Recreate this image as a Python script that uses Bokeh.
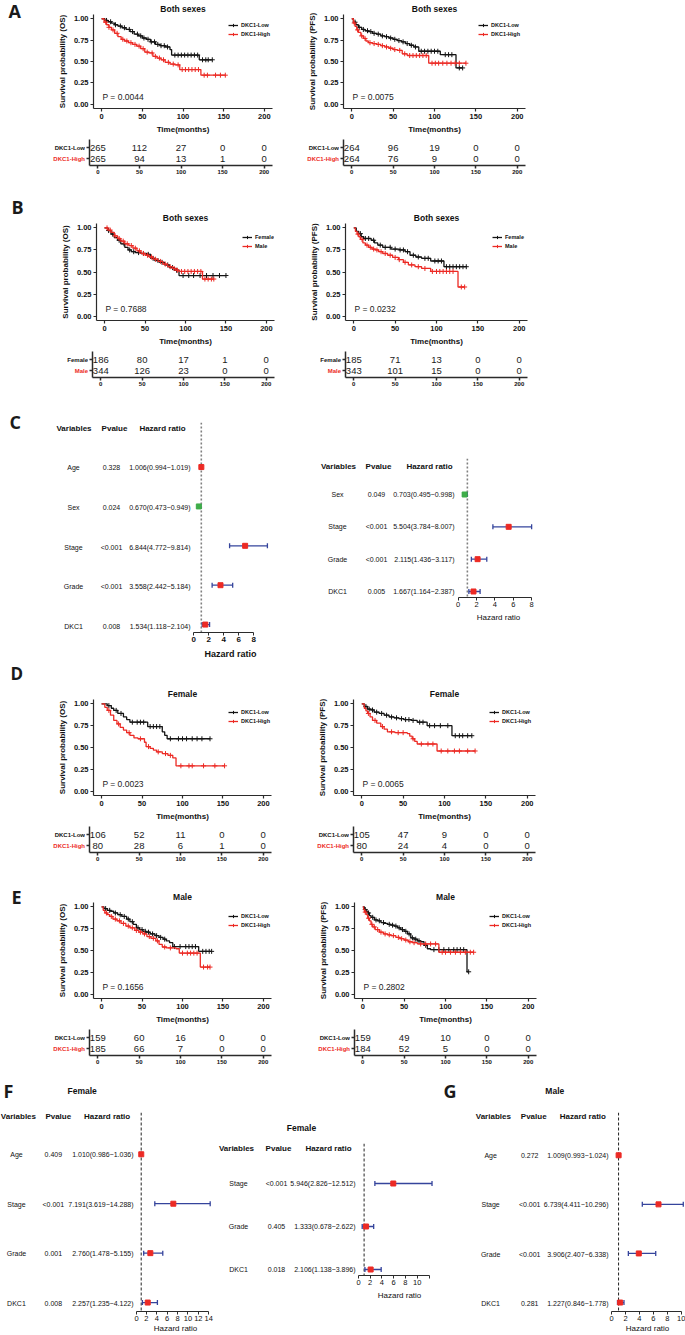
import numpy as np
from bokeh.plotting import figure
from bokeh.models import Range1d, FixedTicker, Label, Legend, LegendItem, Span
from bokeh.layouts import column, row
from bokeh.embed import file_html
from bokeh.resources import INLINE
from bokeh.core.properties import value

# ====================== DATA ======================
KM_X_TICKS = [0, 50, 100, 150, 200]
KM_Y_TICKS = [0.0, 0.25, 0.5, 0.75, 1.0]
KM_Y_LABELS = ["0.00", "0.25", "0.50", "0.75", "1.00"]
RISK_TIMES = [0, 50, 100, 150, 200]
DKC1_GROUPS = ["DKC1-Low", "DKC1-High"]
SEX_GROUPS = ["Female", "Male"]

# --- A: both sexes, OS ---
A_OS_low_t = [0, 4, 8, 12, 16, 20, 25, 30, 35, 40, 45, 50, 55, 60, 66, 72, 78, 84, 86, 120]
A_OS_low_s = [1, .98, .965, .95, .93, .915, .895, .875, .85, .82, .80, .775, .76, .73, .70, .685, .67, .64, .575, .52]
A_OS_low_c = [6, 11, 17, 23, 28, 34, 38, 44, 48, 52, 57, 61, 65, 69, 73, 77, 81, 90, 94, 98, 102, 106, 110, 114, 118, 124, 128, 131, 136]
A_OS_high_t = [0, 3, 6, 9, 12, 16, 20, 24, 28, 33, 38, 43, 48, 53, 58, 63, 68, 73, 78, 84, 90, 96, 122]
A_OS_high_s = [1, .96, .93, .90, .87, .83, .79, .76, .74, .72, .70, .68, .65, .61, .60, .56, .54, .52, .49, .47, .46, .406, .34]
A_OS_high_c = [5, 9, 14, 19, 26, 31, 36, 41, 46, 51, 56, 62, 66, 71, 76, 82, 88, 94, 99, 103, 107, 111, 115, 119, 126, 130, 140, 146, 152]
A_OS_risk_low = [265, 112, 27, 0, 0]
A_OS_risk_high = [265, 94, 13, 1, 0]
A_OS_P = 0.0044
# --- A: both sexes, PFS ---
A_PFS_low_t = [0, 2, 5, 8, 12, 16, 20, 25, 30, 35, 40, 45, 50, 55, 60, 65, 70, 75, 81, 107, 126]
A_PFS_low_s = [1, .96, .93, .90, .875, .86, .85, .83, .82, .80, .79, .775, .76, .745, .73, .71, .69, .67, .62, .58, .425]
A_PFS_low_c = [4, 9, 14, 19, 23, 27, 32, 37, 42, 47, 52, 57, 62, 67, 72, 77, 84, 88, 92, 96, 100, 104, 113, 117, 121, 130, 134]
A_PFS_high_t = [0, 2, 4, 6, 8, 11, 14, 17, 20, 25, 30, 35, 40, 45, 50, 55, 61, 67, 93]
A_PFS_high_s = [1, .95, .91, .87, .84, .80, .77, .74, .72, .71, .70, .685, .67, .655, .64, .63, .59, .57, .48]
A_PFS_high_c = [3, 7, 12, 16, 22, 27, 32, 37, 42, 47, 52, 58, 64, 70, 74, 78, 82, 86, 90, 97, 101, 105, 110, 115, 120, 125, 130, 138]
A_PFS_risk_low = [264, 96, 19, 0, 0]
A_PFS_risk_high = [264, 76, 9, 0, 0]
A_PFS_P = 0.0075

# --- B: female vs male, OS ---
B_OS_f_t = [0, 4, 8, 12, 16, 20, 25, 29, 33, 38, 45, 52, 57, 62, 68, 74, 80, 86, 92]
B_OS_f_s = [1, .97, .93, .89, .86, .82, .78, .75, .73, .72, .71, .70, .655, .63, .61, .58, .55, .52, .46]
B_OS_f_c = [5, 10, 18, 24, 31, 36, 42, 48, 54, 60, 66, 71, 78, 84, 89, 97, 104, 110, 118, 126, 134, 142, 150]
B_OS_m_t = [0, 4, 8, 12, 16, 20, 25, 30, 35, 40, 45, 50, 55, 60, 66, 72, 78, 84, 88, 92, 121]
B_OS_m_s = [1, .975, .95, .91, .88, .85, .82, .80, .77, .74, .71, .69, .67, .645, .62, .59, .56, .54, .52, .506, .42]
B_OS_m_c = [3, 7, 13, 18, 23, 28, 33, 38, 43, 48, 53, 58, 63, 69, 75, 81, 86, 90, 95, 99, 103, 107, 111, 115, 119, 124, 128, 132, 135]
B_OS_risk_f = [186, 80, 17, 1, 0]
B_OS_risk_m = [344, 126, 23, 0, 0]
B_OS_P = 0.7688
# --- B: female vs male, PFS ---
B_PFS_f_t = [0, 3, 6, 9, 12, 21, 25, 29, 35, 45, 55, 62, 68, 75, 82, 93, 109]
B_PFS_f_s = [1, .96, .935, .90, .88, .86, .83, .805, .78, .76, .75, .73, .69, .67, .655, .625, .56]
B_PFS_f_c = [8, 14, 18, 24, 32, 38, 44, 50, 56, 60, 65, 72, 78, 86, 90, 98, 102, 106, 112, 116, 120, 124, 128, 132, 136]
B_PFS_m_t = [0, 2, 4, 6, 8, 11, 14, 18, 22, 26, 30, 35, 41, 47, 54, 60, 66, 74, 82, 93, 126]
B_PFS_m_s = [1, .96, .93, .90, .87, .83, .805, .78, .76, .75, .73, .71, .69, .665, .64, .61, .58, .56, .54, .506, .33]
B_PFS_m_c = [5, 10, 16, 20, 24, 28, 33, 38, 44, 50, 55, 62, 70, 78, 86, 95, 100, 104, 108, 112, 116, 120, 130, 134]
B_PFS_risk_f = [185, 71, 13, 0, 0]
B_PFS_risk_m = [343, 101, 15, 0, 0]
B_PFS_P = 0.0232

# --- D: female, OS ---
D_OS_low_t = [0, 7, 12, 15, 20, 27, 31, 35, 57, 75, 78, 81]
D_OS_low_s = [1, .98, .95, .925, .89, .85, .82, .79, .74, .68, .64, .60]
D_OS_low_c = [9, 18, 24, 38, 44, 48, 52, 60, 64, 68, 72, 85, 95, 100, 105, 112, 118, 124, 134]
D_OS_high_t = [0, 4, 7, 11, 15, 19, 23, 27, 31, 35, 40, 45, 53, 55, 60, 64, 68, 75, 82, 88, 92]
D_OS_high_s = [1, .96, .925, .87, .81, .77, .73, .70, .67, .64, .61, .60, .56, .51, .49, .47, .45, .43, .41, .38, .29]
D_OS_high_c = [9, 21, 34, 48, 58, 70, 79, 85, 98, 108, 112, 126, 140, 152]
D_OS_risk_low = [106, 52, 11, 0, 0]
D_OS_risk_high = [80, 28, 6, 1, 0]
D_OS_P = 0.0023
# --- D: female, PFS ---
D_PFS_low_t = [0, 3, 7, 11, 15, 21, 27, 33, 39, 45, 51, 60, 67, 79, 109]
D_PFS_low_s = [1, .97, .94, .93, .905, .89, .87, .85, .84, .83, .82, .81, .79, .75, .635]
D_PFS_low_c = [5, 9, 13, 18, 24, 30, 36, 42, 48, 53, 57, 62, 70, 74, 82, 88, 95, 104, 113, 118, 122, 128, 133]
D_PFS_high_t = [0, 3, 5, 7, 10, 13, 18, 23, 27, 31, 40, 55, 58, 61, 64, 67, 91]
D_PFS_high_s = [1, .95, .92, .89, .85, .81, .78, .74, .71, .68, .67, .66, .63, .60, .57, .54, .46]
D_PFS_high_c = [8, 16, 25, 36, 44, 50, 62, 72, 80, 86, 96, 104, 112, 118, 128, 137]
D_PFS_risk_low = [105, 47, 9, 0, 0]
D_PFS_risk_high = [80, 24, 4, 0, 0]
D_PFS_P = 0.0065

# --- E: male, OS ---
E_OS_low_t = [0, 3, 7, 11, 15, 20, 25, 31, 35, 39, 43, 47, 51, 55, 60, 66, 71, 76, 80, 84, 88, 120]
E_OS_low_s = [1, .98, .96, .95, .93, .91, .89, .86, .83, .80, .76, .74, .72, .71, .69, .67, .65, .63, .61, .59, .545, .49]
E_OS_low_c = [5, 10, 17, 23, 28, 33, 38, 45, 50, 54, 58, 63, 68, 73, 78, 90, 97, 104, 108, 112, 116, 125, 129, 133, 136]
E_OS_high_t = [0, 2, 4, 7, 10, 14, 19, 24, 30, 35, 41, 46, 51, 56, 61, 67, 71, 75, 80, 92, 96, 122]
E_OS_high_s = [1, .96, .93, .91, .89, .86, .84, .81, .78, .76, .73, .71, .69, .66, .64, .61, .57, .54, .53, .52, .47, .31]
E_OS_high_c = [6, 12, 17, 22, 27, 33, 38, 43, 48, 53, 59, 64, 69, 78, 85, 100, 106, 110, 114, 118, 126, 131, 134]
E_OS_risk_low = [159, 60, 16, 0, 0]
E_OS_risk_high = [185, 66, 7, 0, 0]
E_OS_P = 0.1656
# --- E: male, PFS ---
E_PFS_low_t = [0, 2, 4, 6, 8, 10, 14, 18, 22, 26, 30, 34, 38, 42, 46, 50, 54, 58, 62, 66, 70, 74, 78, 82, 126]
E_PFS_low_s = [1, .97, .95, .93, .90, .88, .85, .84, .82, .81, .80, .79, .78, .76, .74, .72, .69, .645, .63, .61, .60, .56, .52, .51, .256]
E_PFS_low_c = [3, 7, 12, 16, 20, 25, 32, 36, 40, 44, 48, 52, 56, 60, 64, 68, 76, 86, 92, 98, 104, 110, 114, 118, 122, 128]
E_PFS_high_t = [0, 1, 2, 4, 6, 8, 10, 12, 15, 20, 25, 30, 34, 40, 45, 50, 55, 60, 66, 92]
E_PFS_high_s = [1, .97, .94, .91, .87, .84, .80, .77, .74, .71, .69, .68, .67, .65, .635, .62, .60, .59, .575, .48]
E_PFS_high_c = [3, 7, 11, 14, 18, 22, 27, 32, 37, 43, 47, 52, 57, 62, 70, 76, 82, 88, 96, 100, 106, 112, 118, 124, 130, 134]
E_PFS_risk_low = [159, 49, 10, 0, 0]
E_PFS_risk_high = [184, 52, 5, 0, 0]
E_PFS_P = 0.2802

# --- Forest plots ---
C_OS_vars = ["Age", "Sex", "Stage", "Grade", "DKC1"]
C_OS_p = ["0.328", "0.024", "<0.001", "<0.001", "0.008"]
C_OS_hr = [1.006, 0.670, 6.844, 3.558, 1.534]
C_OS_lo = [0.994, 0.473, 4.772, 2.442, 1.118]
C_OS_hi = [1.019, 0.949, 9.814, 5.184, 2.104]

C_PFS_vars = ["Sex", "Stage", "Grade", "DKC1"]
C_PFS_p = ["0.049", "<0.001", "<0.001", "0.005"]
C_PFS_hr = [0.703, 5.504, 2.115, 1.667]
C_PFS_lo = [0.495, 3.784, 1.436, 1.164]
C_PFS_hi = [0.998, 8.007, 3.117, 2.387]

F_OS_vars = ["Age", "Stage", "Grade", "DKC1"]
F_OS_p = ["0.409", "<0.001", "0.001", "0.008"]
F_OS_hr = [1.010, 7.191, 2.760, 2.257]
F_OS_lo = [0.986, 3.619, 1.478, 1.235]
F_OS_hi = [1.036, 14.288, 5.155, 4.122]

F_PFS_vars = ["Stage", "Grade", "DKC1"]
F_PFS_p = ["<0.001", "0.405", "0.018"]
F_PFS_hr = [5.946, 1.333, 2.106]
F_PFS_lo = [2.826, 0.678, 1.138]
F_PFS_hi = [12.512, 2.622, 3.896]

G_OS_vars = ["Age", "Stage", "Grade", "DKC1"]
G_OS_p = ["0.272", "<0.001", "<0.001", "0.281"]
G_OS_hr = [1.009, 6.739, 3.906, 1.227]
G_OS_lo = [0.993, 4.411, 2.407, 0.846]
G_OS_hi = [1.024, 10.296, 6.338, 1.778]

C_OS_TICKS = [0, 2, 4, 6, 8]
C_PFS_TICKS = [0, 2, 4, 6, 8]
F_OS_TICKS = [0, 2, 4, 6, 8, 10, 12, 14]
F_PFS_TICKS = [0, 2, 4, 6, 8, 10, 12]
F_PFS_TICKS_UNLABELLED = [12]
G_OS_TICKS = [0, 2, 4, 6, 8, 10]

# ====================== STYLE / LAYOUT ======================
FONT = "Liberation Sans"
LETTER_FONT = "Open Sans"
RED = "#EC2A24"
BLACK = "#141414"
BLUE = "#35449C"
GREEN = "#3FAE49"
AXC = "#2B2B2B"
TXT = "#111111"


class Geo:
    """Figure whose canvas box and frame are given in page-pixel units."""
    def __init__(self, box, frame, xr, yr, **kw):
        L, T, R, B = box
        l, t, r, b = frame
        XL, XR, YT, YB = round(L), round(R), round(T), round(B)
        fl, fr, ft, fb = round(l), round(r), round(t), round(b)
        self.fig = figure(width=XR - XL, height=YB - YT,
                          x_range=Range1d(*xr), y_range=Range1d(*yr),
                          min_border_left=fl - XL, min_border_right=XR - fr,
                          min_border_top=ft - YT, min_border_bottom=YB - fb,
                          frame_align=False,
                          output_backend="svg", toolbar_location=None, **kw)
        f = self.fig
        f.outline_line_color = None
        f.xgrid.visible = False
        f.ygrid.visible = False


def text_fig(box, items):
    """A figure without axes whose frame is the whole box (page-pixel coordinates)."""
    L, T, R, B = box
    g = Geo(box, box, (L, R), (B, T), x_axis_location=None, y_axis_location=None)
    p = g.fig
    for (x, y, txt, align, size, bold, color, font) in items:
        p.text(x=[x], y=[y], text=[txt], text_align=align, text_baseline="middle",
               text_font=value(font), text_font_size=value(f"{size}px"),
               text_font_style="bold" if bold else "normal", text_color=color)
    return p


def style_axis(ax, size, bold, width=1.0, tick_out=3, standoff=2):
    ax.axis_line_color = AXC
    ax.axis_line_width = width
    ax.major_tick_line_color = AXC
    ax.major_tick_line_width = width
    ax.major_tick_in = 0
    ax.major_tick_out = tick_out
    ax.minor_tick_line_color = None
    ax.major_label_text_font = FONT
    ax.major_label_text_font_size = f"{size}px"
    ax.major_label_text_font_style = "bold" if bold else "normal"
    ax.major_label_text_color = TXT
    ax.major_label_standoff = standoff
    ax.axis_label_text_font = FONT
    ax.axis_label_text_font_style = "bold"
    ax.axis_label_text_color = TXT


def km_panel(sp):
    x0, y1, y0 = sp["x0"], sp["y1"], sp["y0"]
    bx0, bx1 = sp["boxx"]
    bt, bb = sp["band"]
    k = 0.83
    ppu = y0 - y1
    fl, fr = x0 - 10 * k, x0 + 210 * k
    ft, fb = y1 - 0.05 * ppu, y0 + 0.05 * ppu
    mb = y1 + 120.3
    mx0 = fl - 35 if sp.get("letter") else bx0
    g = Geo((mx0, bt, bx1, mb), (fl, ft, fr, fb), (-10, 210), (-0.05, 1.05))
    p = g.fig
    style_axis(p.xaxis[0], 7.5, True, width=1.2)
    style_axis(p.yaxis[0], 7.5, True, width=1.2)
    p.xaxis.ticker = FixedTicker(ticks=KM_X_TICKS)
    p.yaxis.ticker = FixedTicker(ticks=KM_Y_TICKS)
    p.yaxis.major_label_overrides = dict(zip(KM_Y_TICKS, KM_Y_LABELS))
    p.xaxis.axis_label = "Time(months)"
    p.yaxis.axis_label = sp["ylab"]
    p.xaxis.axis_label_text_font_size = "8px"
    p.yaxis.axis_label_text_font_size = "8px"
    p.xaxis.axis_label_standoff = 3
    p.yaxis.axis_label_standoff = 4
    p.title.text = sp["title"]
    p.title.align = "center"
    p.title.text_font = FONT
    p.title.text_font_size = "8.5px"
    p.title.text_font_style = "bold"
    p.title.text_color = TXT
    p.title.standoff = 2

    items = []
    for (t, s, c), name, col in zip(sp["curves"], sp["groups"], (BLACK, RED)):
        end = max(c)
        xs = list(t) + [end]
        ys = list(s) + [s[-1]]
        r1 = p.step(xs, ys, mode="after", line_color=col, line_width=1.3)
        idx = np.searchsorted(np.array(t, dtype=float), np.array(c, dtype=float), side="right") - 1
        cy = np.array(s, dtype=float)[idx]
        r2 = p.scatter(c, cy, marker="cross", size=5, line_color=col, line_width=1)
        items.append(LegendItem(label=name, renderers=[r1, r2]))
    leg = Legend(items=items, location=(sp["legx"], fb - ft - 27.5),
                 label_text_font=FONT, label_text_font_size="5.5px", label_text_font_style="bold",
                 label_text_color=TXT, label_height=8, glyph_height=8, glyph_width=10,
                 label_standoff=3, spacing=1, padding=0, margin=0,
                 border_line_color=None, background_fill_alpha=0)
    p.add_layout(leg)
    p.add_layout(Label(x=1, y=0.085, text=f"P = {sp['p']:.4f}", text_align="left", text_baseline="middle",
                       text_font=FONT, text_font_size="8.5px", text_color="#222222"))

    if sp.get("letter"):
        L_, lx, ly, lsz = sp["letter"]
        gm = text_fig((bx0, bt, mx0, mb), [(lx, ly, L_, "left", lsz, True, "#1a1a1a", LETTER_FONT)])
        main_row = row(gm, p)
    else:
        main_row = p

    # risk table
    tt, tb = y1 + 123.3, y1 + 149.3
    r1y, r2y = y1 + 131.3, y1 + 142.3
    rs = r2y - r1y
    tyr = (2 + (tb - r2y) / rs, 1 - (r1y - tt) / rs)
    tx0 = fl - 4
    tg = Geo((tx0, mb, bx1, bb), (fl, tt, fr, tb), (-10, 210), tyr)
    tp = tg.fig
    style_axis(tp.xaxis[0], 6, True, width=1.5, standoff=1)
    style_axis(tp.yaxis[0], 6, True, width=1.5, standoff=0)
    tp.xaxis.ticker = FixedTicker(ticks=KM_X_TICKS)
    tp.yaxis.ticker = FixedTicker(ticks=[1, 2])
    tp.yaxis.major_label_overrides = {1: "", 2: ""}
    gl = []
    for i, (vals, name, col, ry) in enumerate(zip(sp["risk"], sp["groups"], (BLACK, RED), (r1y, r2y))):
        tp.text(x=RISK_TIMES, y=[i + 1] * len(RISK_TIMES), text=[str(v) for v in vals],
                text_font=value(FONT), text_font_size=value("9.5px"), text_align="center",
                text_baseline="middle", text_color="#1a1a1a")
        gl.append((tx0 - 0.5, ry, name, "right", 6, True, col, FONT))
    gt = text_fig((bx0, mb, tx0, bb), gl)
    return column(main_row, row(gt, tp))


def forest(sp):
    L, T, R, B = sp["box"]
    fl, fr = sp["fx"]
    ft, fb = sp["span_top"], sp["axis_y"]
    hr0, ppu, row1, rsp = sp["hr0"], sp["ppu"], sp["row1"], sp["sp"]
    xr = ((fl - hr0) / ppu, (fr - hr0) / ppu)
    yr = ((fb - row1) / rsp + 1, (ft - row1) / rsp + 1)
    g = Geo((fl, T, R, B), (fl, ft, fr, fb), xr, yr, y_axis_location=None)
    p = g.fig
    ticks = sp["ticks"]
    style_axis(p.xaxis[0], sp["tick_size"], sp["tick_bold"], width=1.0, tick_out=3, standoff=1)
    p.xaxis.ticker = FixedTicker(ticks=ticks)
    p.xaxis.bounds = (ticks[0], ticks[-1])
    if sp.get("blank"):
        p.xaxis.major_label_overrides = {v: "" for v in sp["blank"]}
    so, size, bold = sp["xlab"]
    p.xaxis.axis_label = "Hazard ratio"
    p.xaxis.axis_label_standoff = so
    p.xaxis.axis_label_text_font_size = f"{size}px"
    p.xaxis.axis_label_text_font_style = "bold" if bold else "normal"
    # reference line at HR = 1
    p.add_layout(Span(location=1, dimension="height", line_color=sp["span_color"],
                      line_dash=sp["span_dash"], line_width=sp["span_w"], level="underlay"))
    names, pv, hr, lo, hi = sp["data"]
    rows = list(range(1, len(names) + 1))
    p.segment(x0=lo, y0=rows, x1=hi, y1=rows, line_color=BLUE, line_width=1.3)
    p.scatter(x=lo + hi, y=rows + rows, marker="dash", angle=np.pi / 2, size=5,
              line_color=BLUE, line_width=1.3)
    colors = [GREEN if h < 1 else RED for h in hr]
    p.scatter(x=hr, y=rows, marker="square", size=5, fill_color=colors, line_color=colors)

    # text columns to the left of the plot
    c = sp["cols"]
    items = []
    for i in range(len(names)):
        ry = row1 + (rows[i] - 1) * rsp
        items.append((c["name"], ry, names[i], "center", 7, False, TXT, FONT))
        items.append((c["pval"], ry, pv[i], "center", 7, False, TXT, FONT))
        items.append((fl - 1, ry, f"{hr[i]:.3f}({lo[i]:.3f}\u2212{hi[i]:.3f})", "right", 7, False, TXT, FONT))
    hy = sp["header"]
    items.append((c["hvar"], hy, "Variables", "center", 8, True, TXT, FONT))
    items.append((c["hpv"], hy, "Pvalue", "center", 8, True, TXT, FONT))
    items.append((c["hhr"], hy, "Hazard ratio", "center", 8, True, TXT, FONT))
    if sp.get("title"):
        tt_, tx, ty = sp["title"]
        items.append((tx, ty, tt_, "center", 8.5, True, TXT, FONT))
    if sp.get("letter"):
        L_, lx, ly = sp["letter"]
        items.append((lx, ly, L_, "left", 18, True, "#1a1a1a", LETTER_FONT))
    tf = text_fig((L, T, fl, B), items)
    return row(tf, p)


OS_LAB = "Survival probability (OS)"
PFS_LAB = "Survival probability (PFS)"

AL = dict(x0=97.3, y1=15.7, y0=104.3, boxx=(0, 300), band=(0, 185), title="Both sexes", ylab=OS_LAB,
          groups=DKC1_GROUPS, curves=[(A_OS_low_t, A_OS_low_s, A_OS_low_c), (A_OS_high_t, A_OS_high_s, A_OS_high_c)],
          risk=(A_OS_risk_low, A_OS_risk_high), p=A_OS_P, legx=135, letter=("A", 8, 10.5, 18))
AR = dict(x0=351, y1=15.7, y0=104.3, boxx=(300, 560), band=(0, 185), title="Both sexes", ylab=PFS_LAB,
          groups=DKC1_GROUPS, curves=[(A_PFS_low_t, A_PFS_low_s, A_PFS_low_c), (A_PFS_high_t, A_PFS_high_s, A_PFS_high_c)],
          risk=(A_PFS_risk_low, A_PFS_risk_high), p=A_PFS_P, legx=135)
BL = dict(x0=100, y1=227.7, y0=316.7, boxx=(0, 300), band=(185, 392), title="Both sexes", ylab=OS_LAB,
          groups=SEX_GROUPS, curves=[(B_OS_f_t, B_OS_f_s, B_OS_f_c), (B_OS_m_t, B_OS_m_s, B_OS_m_c)],
          risk=(B_OS_risk_f, B_OS_risk_m), p=B_OS_P, legx=146, letter=("B", 11, 206.7, 18))
BR = dict(x0=353, y1=227.7, y0=316.7, boxx=(300, 560), band=(185, 392), title="Both sexes", ylab=PFS_LAB,
          groups=SEX_GROUPS, curves=[(B_PFS_f_t, B_PFS_f_s, B_PFS_f_c), (B_PFS_m_t, B_PFS_m_s, B_PFS_m_c)],
          risk=(B_PFS_risk_f, B_PFS_risk_m), p=B_PFS_P, legx=147)
DL = dict(x0=97, y1=703, y0=792, boxx=(0, 300), band=(661, 877), title="Female", ylab=OS_LAB,
          groups=DKC1_GROUPS, curves=[(D_OS_low_t, D_OS_low_s, D_OS_low_c), (D_OS_high_t, D_OS_high_s, D_OS_high_c)],
          risk=(D_OS_risk_low, D_OS_risk_high), p=D_OS_P, legx=135, letter=("D", 10, 673, 17))
DR = dict(x0=361, y1=703, y0=792, boxx=(300, 560), band=(661, 877), title="Female", ylab=PFS_LAB,
          groups=DKC1_GROUPS, curves=[(D_PFS_low_t, D_PFS_low_s, D_PFS_low_c), (D_PFS_high_t, D_PFS_high_s, D_PFS_high_c)],
          risk=(D_PFS_risk_low, D_PFS_risk_high), p=D_PFS_P, legx=136)
EL = dict(x0=97, y1=906, y0=994, boxx=(0, 300), band=(877, 1068), title="Male", ylab=OS_LAB,
          groups=DKC1_GROUPS, curves=[(E_OS_low_t, E_OS_low_s, E_OS_low_c), (E_OS_high_t, E_OS_high_s, E_OS_high_c)],
          risk=(E_OS_risk_low, E_OS_risk_high), p=E_OS_P, legx=135, letter=("E", 11, 897, 18))
ER = dict(x0=362, y1=906, y0=994, boxx=(300, 560), band=(877, 1068), title="Male", ylab=PFS_LAB,
          groups=DKC1_GROUPS, curves=[(E_PFS_low_t, E_PFS_low_s, E_PFS_low_c), (E_PFS_high_t, E_PFS_high_s, E_PFS_high_c)],
          risk=(E_PFS_risk_low, E_PFS_risk_high), p=E_PFS_P, legx=135)

C1 = dict(box=(0, 392, 300, 661), fx=(191, 269), axis_y=634, span_top=422, hr0=193.3, ppu=7.5, row1=467, sp=39.75,
          header=428, cols=dict(name=73, pval=111, hvar=73.5, hpv=114, hhr=162),
          data=(C_OS_vars, C_OS_p, C_OS_hr, C_OS_lo, C_OS_hi), ticks=C_OS_TICKS, tick_size=8, tick_bold=True,
          xlab=(4, 9, True), span_color="#808080", span_dash="2 2", span_w=1.6, letter=("C", 9, 421))
C2 = dict(box=(300, 392, 560, 661), fx=(455, 541), axis_y=597, span_top=458, hr0=457.7, ppu=9.17, row1=494, sp=32.33,
          header=466, cols=dict(name=337, pval=376, hvar=338, hpv=378, hhr=429),
          data=(C_PFS_vars, C_PFS_p, C_PFS_hr, C_PFS_lo, C_PFS_hi), ticks=C_PFS_TICKS, tick_size=7.5, tick_bold=False,
          xlab=(3, 8, False), span_color="#808080", span_dash="2 2", span_w=1.6)
F1 = dict(box=(0, 1068, 216, 1335), fx=(134.5, 216), axis_y=1312, span_top=1112, hr0=136, ppu=5.16, row1=1154, sp=49.67,
          header=1116, cols=dict(name=16, pval=53, hvar=18, hpv=58, hhr=107),
          data=(F_OS_vars, F_OS_p, F_OS_hr, F_OS_lo, F_OS_hi), ticks=F_OS_TICKS, tick_size=7.5, tick_bold=False,
          xlab=(0, 8, False), span_color="#222222", span_dash="3 2", span_w=1.0,
          title=("Female", 82, 1090), letter=("F", 3, 1090))
F2 = dict(box=(216, 1068, 442, 1335), fx=(356, 442), axis_y=1275, span_top=1143, hr0=357.7, ppu=5.9, row1=1183, sp=43,
          header=1148, cols=dict(name=238, pval=276, hvar=236, hpv=278, hhr=328),
          data=(F_PFS_vars, F_PFS_p, F_PFS_hr, F_PFS_lo, F_PFS_hi), ticks=F_PFS_TICKS, blank=F_PFS_TICKS_UNLABELLED,
          tick_size=7.5, tick_bold=False, xlab=(3, 8, False), span_color="#222222", span_dash="3 2",
          span_w=1.0, title=("Female", 301, 1127))
G1 = dict(box=(442, 1068, 685, 1335), fx=(608.6, 685), axis_y=1312, span_top=1112, hr0=610.7, ppu=7.0, row1=1155, sp=49.33,
          header=1116, cols=dict(name=490, pval=529, hvar=492.7, hpv=533, hhr=582),
          data=(G_OS_vars, G_OS_p, G_OS_hr, G_OS_lo, G_OS_hi), ticks=G_OS_TICKS, tick_size=7.5, tick_bold=False,
          xlab=(0, 8, False), span_color="#222222", span_dash="3 2", span_w=1.0,
          title=("Male", 554, 1090), letter=("G", 443, 1090))

root = column(
    row(km_panel(AL), km_panel(AR)),
    row(km_panel(BL), km_panel(BR)),
    row(forest(C1), forest(C2)),
    row(km_panel(DL), km_panel(DR)),
    row(km_panel(EL), km_panel(ER)),
    row(forest(F1), forest(F2), forest(G1)),
)

open("out.html", "w").write(file_html(root, INLINE))
